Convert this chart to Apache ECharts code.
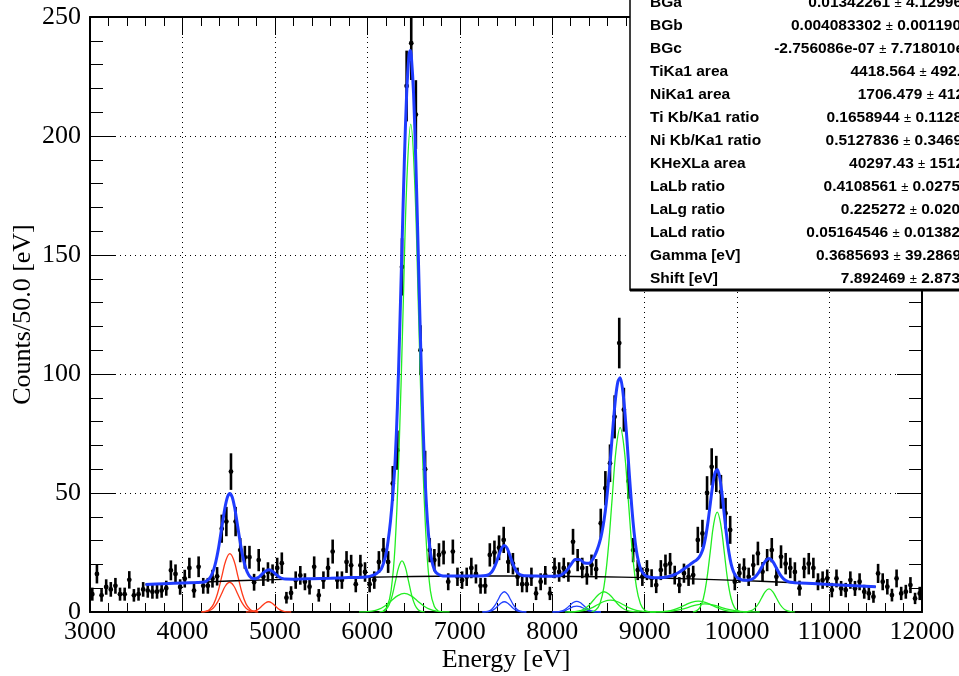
<!DOCTYPE html>
<html><head><meta charset="utf-8">
<script src="https://cdn.jsdelivr.net/npm/echarts@6/dist/echarts.min.js"></script>
<style>html,body{margin:0;padding:0;background:#fff}#c{width:959px;height:676px}</style>
</head><body><div id="c"></div>
<script>
// ---- histogram: 50 eV bins from 3000 to 12000 eV ----
const binStart = 3000, binWidth = 50;
const counts = [
 7.5,16,7,10.5,9.5,11,7.5,7.5,13.5,7, 7.5,9.5,9,8.5,8.5,9,10,17.5,16,10.5,
 14,18.5,9,19,11,11,14,15,35,38, 59,38,26,23,23,12.5,21.8,14.8,16.8,16,
 18.5,20.5,6,8,13.4,15.4,12.7,10.6,19,7, 13.4,18.5,25.4,13.4,13.4,21,19.6,11.7,19.6,16.8,
 11.7,13.4,21,26,21,54,68,145,221,239, 209,110,60,26,21.8,24,25,12.7,25.4,14.8,
 13.4,14.8,18.5,16,11,11,24,25,27,30.3, 21,20.3,14.8,11.7,11.7,14.8,7.8,12.7,15.4,7.8,
 18.5,16.8,18.5,16.8,29.5,21.8,18.5,15.4,19.7,18, 37.3,52,62.5,82,113,85,55,26,17.6,14.8,
 17.6,14.2,11.3,17.6,19.7,20.3,15.5,11.3,16.3,14.8, 15.5,30.3,33,50,61,58,50.5,41.5,34.5,12.7,
 16.3,18.3,14.8,19.7,24.6,16.9,21.8,26,14.8,23.2, 20.3,18.5,16.8,10,18.5,20.3,18.5,12.7,13.4,14.1,
 9.2,14.1,9.9,9.2,13.4,9.9,12.7,8.5,7.8,6.4, 16.2,12.7,10.6,7.1,14.1,7.8,8.5,11.3,5.7,7.8
];

// ---- total fit (blue) ----
const fitTotal = [[3600,11.6],[3800,11.9],[4000,12.2],[4150,12.4],[4237,12.6],[4262,13.1],[4287,13.9],[4312,15.3],[4337,17.7],[4362,21.3],[4387,26.1],[4412,32.1],[4437,38.4],[4462,44.2],[4487,48.3],[4512,49.8],[4537,48.4],[4562,44.4],[4587,38.6],[4612,32.4],[4637,26.5],[4662,21.7],[4687,18.2],[4712,15.9],[4737,14.6],[4762,14.05],[4787,14.0],[4812,14.36],[4837,15.0],[4862,15.94],[4887,16.86],[4912,17.53],[4937,17.73],[4962,17.39],[4987,16.67],[5012,15.79],[5037,14.98],[5062,14.39],[5087,14.02],[5112,13.84],[5200,13.8],[5400,14.0],[5600,14.2],[5800,14.45],[5900,14.5],[6000,14.8],[6050,15.3],[6100,16.2],[6150,18.0],[6200,24.0],[6225,30.0],[6250,38.0],[6275,49.0],[6300,63.0],[6325,86],[6350,118],[6375,153.8],[6400,188.9],[6425,217.5],[6450,233.7],[6465,235.9],[6475,234],[6500,218],[6525,188.6],[6550,151.9],[6575,114.5],[6600,81.5],[6625,56.1],[6650,38.4],[6675,27.3],[6700,21.1],[6725,17.8],[6750,16.3],[6800,15.3],[6850,15.1],[7000,15.1],[7200,15.1],[7257,15.2],[7282,15.3],[7307,15.6],[7332,16.26],[7357,17.5],[7382,19.47],[7407,22.1],[7432,24.9],[7457,27.1],[7482,27.93],[7507,27.1],[7532,24.9],[7557,22.1],[7582,19.47],[7607,17.5],[7632,16.26],[7657,15.6],[7682,15.3],[7707,15.2],[7800,15.1],[7950,15.0],[8050,15.1],[8100,15.6],[8150,17.1],[8200,19.8],[8250,22.1],[8300,22.0],[8350,20.6],[8400,20.5],[8435,22.0],[8460,23.7],[8485,26.0],[8510,28.9],[8535,32.9],[8560,38.4],[8585,45.9],[8610,55.7],[8635,67.1],[8660,79.2],[8685,89.8],[8710,96.7],[8735,98.4],[8760,93.9],[8785,84.4],[8810,71.4],[8835,57.3],[8860,44.4],[8885,33.7],[8910,25.9],[8935,20.9],[8960,17.8],[8985,16.1],[9010,15.2],[9035,14.8],[9100,14.4],[9200,14.5],[9285,15.15],[9335,15.9],[9385,17.0],[9435,18.4],[9485,19.8],[9535,21.2],[9560,21.8],[9585,22.8],[9610,24.4],[9635,27.1],[9660,31.6],[9685,37.9],[9710,45.5],[9735,53],[9760,58.3],[9785,59.9],[9810,56.9],[9835,50.1],[9860,41.4],[9885,32.6],[9910,25.4],[9935,20.2],[9960,17.0],[9985,15.2],[10010,14.2],[10035,13.8],[10060,13.4],[10100,13.3],[10150,13.6],[10185,14.3],[10225,16.1],[10265,18.75],[10305,21.37],[10345,22.44],[10385,21.24],[10425,18.5],[10465,15.71],[10505,13.8],[10545,12.86],[10585,12.48],[10625,12.31],[11000,11.6],[11500,10.6]];

// ---- background (black) ----
const background = [[3600,11.6],[4000,12.2],[4500,13.0],[5000,13.6],[5500,14.1],[6000,14.6],[6500,14.9],[7000,15.1],[7500,15.1],[8000,15.0],[8500,14.8],[9000,14.45],[9500,13.9],[10000,13.3],[10500,12.5],[11000,11.6],[11500,10.6]];

// ---- components ----
const tiKa1 = [[4205,0.05],[4249,0.27],[4293,1.08],[4337,3.31],[4381,7.96],[4425,14.86],[4469,21.62],[4513,24.5],[4557,21.62],[4601,14.86],[4645,7.96],[4689,3.31],[4733,1.08],[4777,0.27],[4821,0.05]];
const tiKa2 = [[4202,0.03],[4246,0.14],[4290,0.55],[4334,1.69],[4378,4.06],[4422,7.58],[4466,11.03],[4510,12.5],[4554,11.03],[4598,7.58],[4642,4.06],[4686,1.69],[4730,0.55],[4774,0.14],[4818,0.03]];
const tiKb = [[4687,0.01],[4722,0.05],[4757,0.19],[4792,0.58],[4827,1.40],[4862,2.61],[4897,3.79],[4932,4.3],[4967,3.79],[5002,2.61],[5037,1.40],[5072,0.58],[5107,0.19],[5142,0.05],[5177,0.01]];
const laMain = [[6172,0.45],[6215,2.28],[6257,9.0],[6300,27.7],[6342,66.6],[6385,124.3],[6427,180.9],[6470,205],[6512,180.9],[6555,124.3],[6597,66.6],[6640,27.7],[6682,9.0],[6725,2.28],[6767,0.45]];
const laSat1 = [[6130,0.05],[6165,0.24],[6200,0.94],[6235,2.91],[6270,6.98],[6305,13.04],[6340,18.97],[6375,21.5],[6410,18.97],[6445,13.04],[6480,6.98],[6515,2.91],[6550,0.94],[6585,0.24],[6620,0.05]];
const laSat2 = [[5910,0.02],[5980,0.09],[6050,0.34],[6120,1.06],[6190,2.53],[6260,4.73],[6330,6.88],[6400,7.8],[6470,6.88],[6540,4.73],[6610,2.53],[6680,1.06],[6750,0.34],[6820,0.09],[6890,0.02]];
const niKa1 = [[7244,0.02],[7278,0.09],[7312,0.37],[7346,1.15],[7380,2.76],[7414,5.16],[7448,7.50],[7482,8.5],[7516,7.50],[7550,5.16],[7584,2.76],[7618,1.15],[7652,0.37],[7686,0.09],[7720,0.02]];
const niKa2 = [[7244,0.01],[7278,0.05],[7312,0.19],[7346,0.58],[7380,1.40],[7414,2.61],[7448,3.79],[7482,4.3],[7516,3.79],[7550,2.61],[7584,1.40],[7618,0.58],[7652,0.19],[7686,0.05],[7720,0.01]];
const niKb1 = [[8002,0.01],[8040,0.05],[8077,0.20],[8115,0.61],[8152,1.46],[8190,2.73],[8227,3.97],[8265,4.5],[8302,3.97],[8340,2.73],[8377,1.46],[8415,0.61],[8452,0.20],[8490,0.05],[8527,0.01]];
const niKb2 = [[8002,0.01],[8040,0.03],[8077,0.11],[8115,0.34],[8152,0.81],[8190,1.52],[8227,2.21],[8265,2.5],[8302,2.21],[8340,1.52],[8377,0.81],[8415,0.34],[8452,0.11],[8490,0.03],[8527,0.01]];
const lbMain = [[8427,0.17],[8471,0.86],[8515,3.40],[8559,10.49],[8603,25.16],[8647,47.0],[8691,68.39],[8735,77.5],[8779,68.39],[8823,47.0],[8867,25.16],[8911,10.49],[8955,3.40],[8999,0.86],[9043,0.17]];
const lbSat1 = [[8175,0.02],[8230,0.09],[8285,0.37],[8340,1.15],[8395,2.76],[8450,5.16],[8505,7.50],[8560,8.5],[8615,7.50],[8670,5.16],[8725,2.76],[8780,1.15],[8835,0.37],[8890,0.09],[8945,0.02]];
const lbSat2 = [[8140,0.01],[8210,0.06],[8280,0.22],[8350,0.68],[8420,1.62],[8490,3.03],[8560,4.41],[8630,5],[8700,4.41],[8770,3.03],[8840,1.62],[8910,0.68],[8980,0.22],[9050,0.06],[9120,0.01]];
const lgMain = [[9522,0.09],[9560,0.47],[9597,1.84],[9635,5.68],[9672,13.64],[9710,25.47],[9747,37.07],[9785,42],[9822,37.07],[9860,25.47],[9897,13.64],[9935,5.68],[9972,1.84],[10010,0.47],[10047,0.09]];
const lgSat1 = [[9055,0.01],[9130,0.05],[9205,0.20],[9280,0.62],[9355,1.49],[9430,2.79],[9505,4.06],[9580,4.6],[9655,4.06],[9730,2.79],[9805,1.49],[9880,0.62],[9955,0.20],[10030,0.05],[10105,0.01]];
const lgSat2 = [[9055,0.01],[9140,0.04],[9225,0.15],[9310,0.46],[9395,1.10],[9480,2.06],[9565,3.0],[9650,3.4],[9735,3.0],[9820,2.06],[9905,1.10],[9990,0.46],[10075,0.15],[10160,0.04],[10245,0.01]];
const ldMain = [[10065,0.02],[10105,0.11],[10145,0.43],[10185,1.31],[10225,3.15],[10265,5.88],[10305,8.56],[10345,9.7],[10385,8.56],[10425,5.88],[10465,3.15],[10505,1.31],[10545,0.43],[10585,0.11],[10625,0.02]];

// ---- stats box ----
const statNames = ['BGa','BGb','BGc','TiKa1 area','NiKa1 area','Ti Kb/Ka1 ratio','Ni Kb/Ka1 ratio','KHeXLa area','LaLb ratio','LaLg ratio','LaLd ratio','Gamma [eV]','Shift [eV]'];
const statValues = ['0.01342261','0.004083302','-2.756086e-07','4418.564','1706.479','0.1658944','0.5127836','40297.43','0.4108561','0.225272','0.05164546','0.3685693','7.892469'];
const statErrors = ['4.12996','0.001190','7.718010e','492.','412','0.1128','0.3469','1512','0.0275','0.020','0.01382','39.2869','2.873'];

const xTicks = {min:3000, max:12000, interval:1000};
const yTicks = {min:0, max:250, interval:50};

const serif = '"Liberation Serif","Times New Roman",serif';
const sans = '"Liberation Sans",Arial,sans-serif';
const chart = echarts.init(document.getElementById('c'), null, {renderer:'canvas'});

const points = counts.map((v,i)=>[binStart + binWidth*(i+0.5), v, Math.sqrt(v)]);

function xAxis(pos, main){
  return {type:'value', position:pos, min:xTicks.min, max:xTicks.max, interval:xTicks.interval,
    axisLine:{show:true, onZero:false, lineStyle:{color:'#000', width:2}},
    axisTick:{show:true, inside:true, length:18, lineStyle:{color:'#000', width:1}},
    minorTick:{show:true, splitNumber:5, length:9, lineStyle:{color:'#000', width:1}},
    axisLabel:{show:main, color:'#000', fontFamily:serif, fontSize:26, margin:7, formatter:v=>String(v), showMaxLabel:true, showMinLabel:true},
    splitLine:{show:main, lineStyle:{color:'#000', type:[1,4], width:1}},
    minorSplitLine:{show:false},
    name: main ? 'Energy [eV]' : '', nameLocation:'middle', nameGap:35, nameMoveOverlap:false,
    nameTextStyle:{color:'#000', fontFamily:serif, fontSize:26}
  };
}
function yAxis(pos, main){
  return {type:'value', position:pos, min:yTicks.min, max:yTicks.max, interval:yTicks.interval,
    axisLine:{show:true, onZero:false, lineStyle:{color:'#000', width:2}},
    axisTick:{show:true, inside:true, length:25, lineStyle:{color:'#000', width:1}},
    minorTick:{show:true, splitNumber:5, length:13, lineStyle:{color:'#000', width:1}},
    axisLabel:{show:main, color:'#000', fontFamily:serif, fontSize:26, margin:9, formatter:v=>String(v), showMaxLabel:true, showMinLabel:true},
    splitLine:{show:main, lineStyle:{color:'#000', type:[1,4], width:1}},
    name: main ? 'Counts/50.0 [eV]' : '', nameLocation:'middle', nameGap:54, nameMoveOverlap:false,
    nameTextStyle:{color:'#000', fontFamily:serif, fontSize:26}
  };
}

function comp(data, color){
  return {type:'line', data:data, showSymbol:false, smooth:0.4, clip:true, silent:true, z:3,
    lineStyle:{color:color, width:1.3}, animation:false};
}
const RED = '#ff3a1a', GREEN = '#22ee22', BLUE = '#2040ff';

const graphics = [
  {type:'rect', z:100, shape:{x:630, y:-20, width:360, height:310}, style:{fill:'#fff', stroke:'#000', lineWidth:1.5}},
  {type:'rect', z:101, shape:{x:630, y:288.5, width:340, height:3}, style:{fill:'#000'}}
];
const overhang = [3,2,5,2,5,3,3,5,1,1,1,2,1];
statNames.forEach((n,i)=>{
  const y = 3 + 23*i;
  graphics.push({type:'text', z:102, x:650, y:y, style:{text:n, fontFamily:sans, fontWeight:'bold', fontSize:15.5, fill:'#000', verticalAlign:'middle', align:'left'}});
  graphics.push({type:'text', z:102, x:959+overhang[i], y:y, style:{
    text: statValues[i] + ' {pm|\u00b1} ' + statErrors[i],
    fontFamily:sans, fontWeight:'bold', fontSize:15.5, fill:'#000', verticalAlign:'middle', align:'right',
    rich:{pm:{fontFamily:sans, fontWeight:'normal', fontSize:13, fill:'#000'}}}});
});

chart.setOption({
  animation:false,
  backgroundColor:'#fff',
  grid:{left:90, right:37, top:17, bottom:64, containLabel:false, outerBoundsMode:'none'},
  xAxis:[xAxis('bottom', true), xAxis('top', false)],
  yAxis:[yAxis('left', true), yAxis('right', false)],
  series:[
    {type:'custom', data:points, clip:true, z:2, silent:true,
     renderItem:function(params, api){
       const x = api.value(0), y = api.value(1), e = api.value(2);
       const p = api.coord([x, y]);
       const lo = api.coord([x, y - e]);
       const hi = api.coord([x, y + e]);
       return {type:'group', children:[
         {type:'line', shape:{x1:p[0], y1:lo[1], x2:p[0], y2:hi[1]}, style:{stroke:'#000', lineWidth:2.6}},
         {type:'circle', shape:{cx:p[0], cy:p[1], r:2.4}, style:{fill:'#000'}}
       ]};
     }},
    comp(tiKa1, RED), comp(tiKa2, RED), comp(tiKb, RED),
    comp(laMain, GREEN), comp(laSat1, GREEN), comp(laSat2, GREEN),
    comp(niKa1, BLUE), comp(niKa2, BLUE), comp(niKb1, BLUE), comp(niKb2, BLUE),
    comp(lbMain, GREEN), comp(lbSat1, GREEN), comp(lbSat2, GREEN),
    comp(lgMain, GREEN), comp(lgSat1, GREEN), comp(lgSat2, GREEN), comp(ldMain, GREEN),
    {type:'line', data:background, showSymbol:false, smooth:0.3, clip:true, z:3, silent:true, lineStyle:{color:'#000', width:1.4}},
    {type:'line', data:fitTotal, showSymbol:false, smooth:0.3, clip:true, z:4, silent:true, lineStyle:{color:'#1f3cff', width:3}}
  ],
  graphic: graphics
});
</script></body></html>
